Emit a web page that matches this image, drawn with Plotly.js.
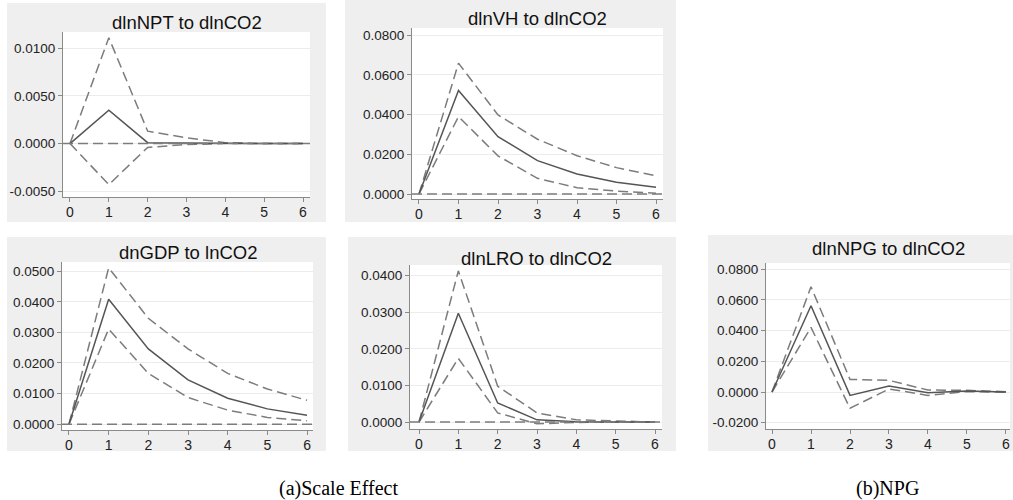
<!DOCTYPE html>
<html><head><meta charset="utf-8">
<script src="https://cdn.plot.ly/plotly-3.0.1.min.js"></script>
<style>html,body{margin:0;padding:0;background:#fff}#chart{width:1013px;height:500px}</style>
</head><body><div id="chart"></div>
<script>
// ---------- data ----------
const horizon = [0, 1, 2, 3, 4, 5, 6];
const panelTitles = ["dlnNPT to dlnCO2", "dlnVH to dlnCO2", "dnGDP to lnCO2", "dlnLRO to dlnCO2", "dlnNPG to dlnCO2"];
const captions = ["(a)Scale Effect", "(b)NPG"];

const nptIrf   = [0, 0.0035, 0.0001, 0.00005, 0, 0, 0];
const nptUpper = [0, 0.0111, 0.0013, 0.0006, 0.0001, 0, 0];
const nptLower = [0, -0.0043, -0.0004, -0.0001, 0, 0, 0];

const vhIrf   = [0, 0.0521, 0.0289, 0.0168, 0.0101, 0.0059, 0.0034];
const vhUpper = [0, 0.0659, 0.0398, 0.0276, 0.0193, 0.0133, 0.0092];
const vhLower = [0, 0.0390, 0.0192, 0.0079, 0.0032, 0.0015, 0.0004];

const gdpIrf   = [0, 0.0408, 0.0246, 0.0145, 0.0085, 0.0050, 0.0029];
const gdpUpper = [0, 0.0511, 0.0346, 0.0246, 0.0166, 0.0115, 0.0078];
const gdpLower = [0, 0.0311, 0.0166, 0.0087, 0.0046, 0.0022, 0.0011];

const lroIrf   = [0, 0.0297, 0.0052, 0.0006, 0.0001, 0, 0];
const lroUpper = [0, 0.0413, 0.0098, 0.0025, 0.0006, 0.0002, 0];
const lroLower = [0, 0.0174, 0.0025, -0.0005, -0.0001, 0, 0];

const npgIrf   = [0, 0.0562, -0.0022, 0.0039, -0.0004, 0.0007, 0];
const npgUpper = [0, 0.0686, 0.0082, 0.0076, 0.0013, 0.0011, 0.0002];
const npgLower = [0, 0.0421, -0.0106, 0.0020, -0.0022, 0.0003, -0.0002];

const yTicks1 = [-0.005, 0, 0.005, 0.01];
const yTicks2 = [0, 0.02, 0.04, 0.06, 0.08];
const yTicks3 = [0, 0.01, 0.02, 0.03, 0.04, 0.05];
const yTicks4 = [0, 0.01, 0.02, 0.03, 0.04];
const yTicks5 = [-0.02, 0, 0.02, 0.04, 0.06, 0.08];

// ---------- layout helpers ----------
const W = 1013, H = 500;
const fmt = v => (v < 0 ? "-" : "") + Math.abs(v).toFixed(4);

const panels = [
  {irf: nptIrf, up: nptUpper, lo: nptLower, ticks: yTicks1, title: panelTitles[0],
   bg: [7, 3, 326, 222], plot: [63, 32, 310, 197], xr: [-0.18, 6.18], yr: [-0.0056, 0.0117], ty: 22, zero: true},
  {irf: vhIrf, up: vhUpper, lo: vhLower, ticks: yTicks2, title: panelTitles[1],
   bg: [345, 0, 676, 222], plot: [412, 28, 663, 199], xr: [-0.177, 6.177], yr: [-0.0025, 0.0836], ty: 18, zero: true},
  {irf: gdpIrf, up: gdpUpper, lo: gdpLower, ticks: yTicks3, title: panelTitles[2],
   bg: [7, 237, 326, 451], plot: [62, 262, 313, 430], xr: [-0.176, 6.15], yr: [-0.0019, 0.0530], ty: 252, zero: true},
  {irf: lroIrf, up: lroUpper, lo: lroLower, ticks: yTicks4, title: panelTitles[3],
   bg: [348, 237, 676, 451], plot: [410, 265, 662, 429], xr: [-0.229, 6.178], yr: [-0.0019, 0.0429], ty: 258, zero: true},
  {irf: npgIrf, up: npgUpper, lo: npgLower, ticks: yTicks5, title: panelTitles[4],
   bg: [708, 235, 1013, 451], plot: [766, 263, 1010, 429], xr: [-0.154, 6.103], yr: [-0.0241, 0.0841], ty: 248, zero: false}
];

const px = x => x / W, py = y => 1 - y / H;
const font = "Liberation Sans, Arial, Helvetica, sans-serif";
const ciStyle = {color: "#7c7c7c", width: 1.5, dash: "10px,5px"};
const irfStyle = {color: "#555555", width: 1.5};

const traces = [], shapes = [], annotations = [];
const layout = {
  width: W, height: H, margin: {l: 0, r: 0, t: 0, b: 0},
  paper_bgcolor: "#ffffff", plot_bgcolor: "rgba(0,0,0,0)",
  showlegend: false, font: {family: font, color: "#222"}
};

panels.forEach((p, i) => {
  const n = i + 1, xa = "x" + (n === 1 ? "" : n), ya = "y" + (n === 1 ? "" : n);
  const xk = "xaxis" + (n === 1 ? "" : n), yk = "yaxis" + (n === 1 ? "" : n);
  // backgrounds
  shapes.push({type: "rect", xref: "paper", yref: "paper", layer: "below",
    x0: px(p.bg[0]), x1: px(p.bg[2]), y0: py(p.bg[3]), y1: py(p.bg[1]),
    fillcolor: "#efefef", line: {width: 0}});
  shapes.push({type: "rect", xref: "paper", yref: "paper", layer: "below",
    x0: px(p.plot[0]), x1: px(p.plot[2]), y0: py(p.plot[3]), y1: py(p.plot[1]),
    fillcolor: "#ffffff", line: {width: 0}});
  if (p.zero) {
    shapes.push({type: "line", xref: xa, yref: ya, x0: p.xr[0], x1: p.xr[1], y0: 0, y1: 0,
      layer: "above", line: ciStyle});
  }
  layout[xk] = {
    domain: [px(p.plot[0]), px(p.plot[2])], range: p.xr, anchor: ya,
    tickvals: horizon, ticktext: horizon.map(String), ticks: "outside", ticklen: 4, tickcolor: "#8a8a8a",
    ticklabelstandoff: -2,
    showline: true, linecolor: "#8a8a8a", linewidth: 1, showgrid: false, zeroline: false,
    tickfont: {size: 14, color: "#222", family: font}, fixedrange: true
  };
  layout[yk] = {
    domain: [py(p.plot[3]), py(p.plot[1])], range: p.yr, anchor: xa,
    tickvals: p.ticks, ticktext: p.ticks.map(fmt), ticks: "outside", ticklen: 4, tickcolor: "#8a8a8a",
    showline: true, linecolor: "#8a8a8a", linewidth: 1, showgrid: true, gridcolor: "#ececec", gridwidth: 1,
    zeroline: false, tickfont: {size: 13.5, color: "#222", family: font}, fixedrange: true
  };
  traces.push({x: horizon, y: p.up, xaxis: xa, yaxis: ya, mode: "lines", line: ciStyle, hoverinfo: "skip"});
  traces.push({x: horizon, y: p.lo, xaxis: xa, yaxis: ya, mode: "lines", line: ciStyle, hoverinfo: "skip"});
  traces.push({x: horizon, y: p.irf, xaxis: xa, yaxis: ya, mode: "lines", line: irfStyle, hoverinfo: "skip"});
  annotations.push({xref: "paper", yref: "paper", x: px((p.plot[0] + p.plot[2]) / 2), y: py(p.ty),
    xanchor: "center", yanchor: "middle", showarrow: false, text: p.title,
    font: {size: 18.5, color: "#111", family: font}});
});

annotations.push({xref: "paper", yref: "paper", x: px(338), y: py(488), xanchor: "center", yanchor: "middle",
  showarrow: false, text: captions[0], font: {size: 20, color: "#000", family: "Liberation Serif, Times New Roman, serif"}});
annotations.push({xref: "paper", yref: "paper", x: px(887), y: py(488), xanchor: "center", yanchor: "middle",
  showarrow: false, text: captions[1], font: {size: 20, color: "#000", family: "Liberation Serif, Times New Roman, serif"}});

layout.shapes = shapes;
layout.annotations = annotations;

Plotly.newPlot("chart", traces, layout, {staticPlot: true, displayModeBar: false});
</script>
</body></html>
